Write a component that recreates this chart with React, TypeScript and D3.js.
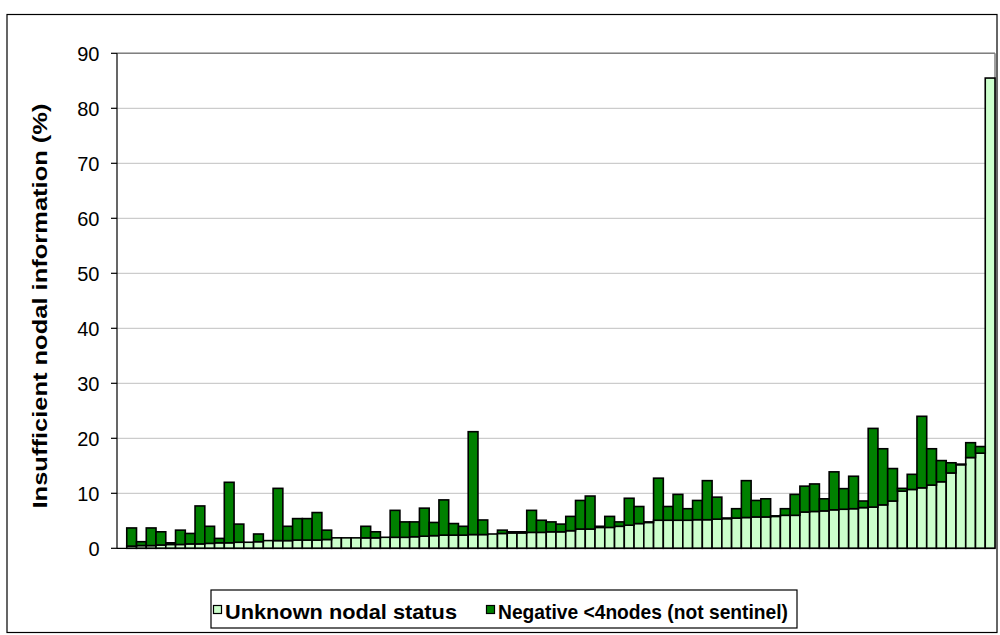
import React from "react";
import * as d3 from "d3";

// Unknown nodal status (%) per hospital, sorted ascending (first slot empty)
const unknownStatus = [
  0, 0.4, 0.5, 0.5, 0.6, 0.7, 0.7, 0.8, 0.8, 0.9, 1.0,
  1.0, 1.1, 1.1, 1.2, 1.4, 1.4, 1.4, 1.5, 1.5, 1.5,
  1.6, 1.9, 1.9, 1.9, 1.9, 1.9, 2.0, 2.0, 2.0, 2.1,
  2.2, 2.3, 2.4, 2.4, 2.4, 2.5, 2.5, 2.6, 2.7, 2.8,
  2.8, 2.9, 2.9, 3.0, 3.0, 3.2, 3.5, 3.5, 3.8, 3.8,
  4.0, 4.2, 4.5, 4.7, 5.1, 5.1, 5.1, 5.1, 5.2, 5.2,
  5.3, 5.4, 5.5, 5.6, 5.7, 5.7, 5.8, 6.0, 6.0, 6.6,
  6.7, 6.8, 7.0, 7.1, 7.2, 7.4, 7.5, 7.9, 8.6, 10.4,
  10.7, 11.0, 11.5, 12.1, 13.7, 15.2, 16.5, 17.3, 85.5,
];

// Negative <4 nodes (not sentinel) (%) stacked on top
const negativeLt4 = [
  0, 3.3, 0.7, 3.2, 2.4, 0.3, 2.6, 1.9, 6.9, 3.1, 0.8,
  11.0, 3.3, 0, 1.4, 0, 9.5, 2.6, 3.9, 3.9, 5.0,
  1.7, 0, 0, 0, 2.1, 1.1, 0, 4.9, 2.8, 2.7,
  5.1, 2.4, 6.4, 2.1, 1.6, 18.7, 2.65, 0, 0.6, 0.2,
  0.2, 4.0, 2.2, 1.8, 1.4, 2.6, 5.2, 6.0, 0.2, 2.0,
  0.8, 4.9, 3.1, 0.1, 7.65, 2.5, 4.7, 2.1, 3.5, 7.1,
  4.0, 0.1, 1.7, 6.7, 3.0, 3.3, 0.1, 1.2, 3.8, 4.7,
  5.0, 2.2, 6.9, 3.75, 5.9, 1.2, 14.3, 10.2, 5.9, 0.5,
  2.75, 13.0, 6.6, 3.85, 1.85, 0.1, 2.7, 1.2, 0,
];

const categories = unknownStatus.map((_, i) => `H${i}`);
const yTicks = [0, 10, 20, 30, 40, 50, 60, 70, 80, 90];
const seriesNames = ["Unknown nodal status", "Negative <4nodes (not sentinel)"];
const seriesColors = ["#CCFFCC", "#008000"];
const yTitle = "Insufficient nodal information (%)";

export default function App() {
  const W = 1000;
  const H = 635;
  const plot = { left: 117, top: 53.3, right: 995, bottom: 548.3 };
  const font = "'Liberation Sans', Arial, sans-serif";

  const rows = categories.map((c, i) => ({
    cat: c,
    unknown: unknownStatus[i],
    negative: negativeLt4[i],
  }));
  const stacked = d3.stack<any>().keys(["unknown", "negative"])(rows);

  const x = d3.scaleBand<string>().domain(categories).range([plot.left, plot.right]).padding(0);
  const y = d3.scaleLinear().domain([0, 90]).range([plot.bottom, plot.top]);

  return (
    <svg
      width={W}
      height={H}
      style={{ position: "absolute", left: 0, top: 0, background: "#fff" }}
      fontFamily={font}
    >
      {/* outer chart border */}
      <rect x={7} y={14.5} width={990} height={618} fill="#fff" stroke="#000" strokeWidth={1.2} />

      {/* gridlines */}
      {yTicks.map((t) =>
        t === 0 ? null : (
          <line key={t} x1={plot.left} x2={plot.right} y1={y(t)} y2={y(t)} stroke="#C0C0C0" strokeWidth={1} />
        )
      )}
      {/* plot border top/right */}
      <line x1={plot.left} x2={plot.right} y1={plot.top} y2={plot.top} stroke="#808080" strokeWidth={1.5} />
      <line x1={plot.right} x2={plot.right} y1={plot.top} y2={plot.bottom} stroke="#808080" strokeWidth={1.5} />

      {/* bars */}
      {stacked.map((layer, li) => (
        <g key={li}>
          {layer.map((d, i) => {
            const h = y(d[0]) - y(d[1]);
            if (h <= 0) return null;
            return (
              <rect
                key={i}
                x={x(categories[i])!}
                y={y(d[1])}
                width={x.bandwidth()}
                height={h}
                fill={seriesColors[li]}
                stroke="#000"
                strokeWidth={1.6}
              />
            );
          })}
        </g>
      ))}

      {/* axes */}
      <line x1={plot.left} x2={plot.left} y1={plot.top} y2={plot.bottom} stroke="#000" strokeWidth={1.2} />
      <line x1={plot.left} x2={plot.right} y1={plot.bottom} y2={plot.bottom} stroke="#000" strokeWidth={1.2} />
      {yTicks.map((t) => (
        <g key={t}>
          <line x1={plot.left - 6} x2={plot.left} y1={y(t)} y2={y(t)} stroke="#000" strokeWidth={1.2} />
          <text x={99.5} y={y(t)} dy="0.36em" textAnchor="end" fontSize={20} fill="#000">
            {t}
          </text>
        </g>
      ))}

      {/* y title */}
      <text
        transform={`translate(47,306) rotate(-90)`}
        textAnchor="middle"
        fontSize={21}
        fontWeight="bold"
        fill="#000"
        textLength={405}
        lengthAdjust="spacingAndGlyphs"
      >
        {yTitle}
      </text>

      {/* legend */}
      <rect x={211} y={590} width={586} height={38} fill="#fff" stroke="#000" strokeWidth={1.2} />
      <rect x={213.5} y={605.5} width={8} height={8} fill={seriesColors[0]} stroke="#000" strokeWidth={1.2} />
      <text
        x={225}
        y={611.5}
        dy="0.36em"
        fontSize={20.5}
        fontWeight="bold"
        fill="#000"
        textLength={232}
        lengthAdjust="spacingAndGlyphs"
      >
        {seriesNames[0]}
      </text>
      <rect x={486.5} y={605.5} width={8} height={8} fill={seriesColors[1]} stroke="#000" strokeWidth={1.2} />
      <text
        x={498}
        y={611.5}
        dy="0.36em"
        fontSize={20.5}
        fontWeight="bold"
        fill="#000"
        textLength={290}
        lengthAdjust="spacingAndGlyphs"
      >
        {seriesNames[1]}
      </text>
    </svg>
  );
}
